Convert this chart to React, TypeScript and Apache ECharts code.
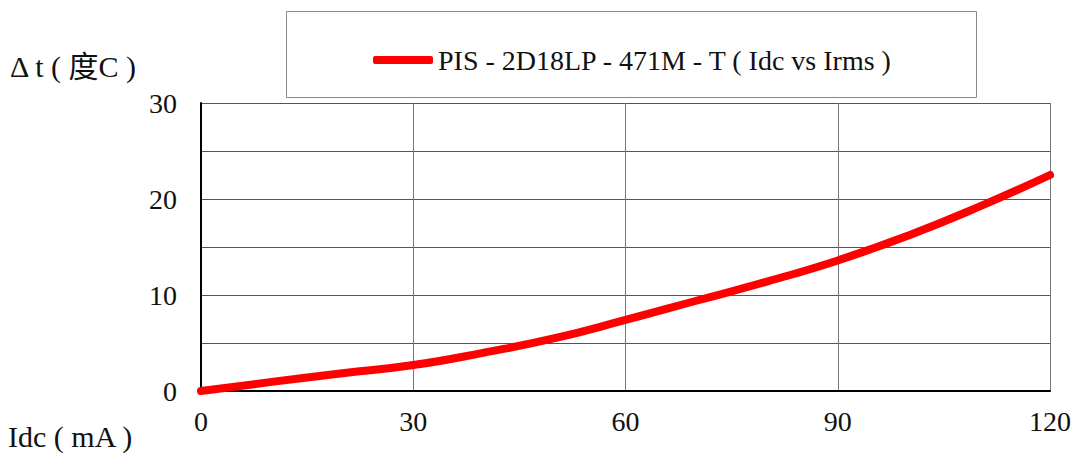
import React, { useEffect, useRef } from "react";
import * as echarts from "echarts";

const seriesName = "PIS - 2D18LP - 471M - T ( Idc vs Irms )";
const idc = [0, 10, 20, 30, 40, 50, 60, 70, 80, 90, 100, 110, 120];
const deltaT = [0, 0.95, 1.85, 2.7, 4.0, 5.5, 7.4, 9.4, 11.4, 13.6, 16.2, 19.2, 22.5];
const xTitle = "Idc ( mA )";
const yTitle = "Δ t ( 度C )";

const FONT = "Liberation Serif, Noto Sans CJK TC, serif";

export default function App() {
  const ref = useRef<HTMLDivElement>(null);
  useEffect(() => {
    if (!ref.current) return;
    const chart = echarts.init(ref.current, undefined, { renderer: "svg" });
    const data = idc.map((x, i) => [x, deltaT[i]]);
    chart.setOption({
      animation: false,
      backgroundColor: "#ffffff",
      grid: { left: 201, top: 103, right: 27, bottom: 62, containLabel: false },
      legend: {
        left: 368,
        top: 41,
        itemWidth: 60,
        itemHeight: 8,
        itemGap: 10,
        icon: "roundRect",
        textStyle: { fontFamily: FONT, fontSize: 28, color: "#111" },
        data: [{ name: seriesName, itemStyle: { color: "#ff0000" } }],
      },
      graphic: [
        {
          type: "rect",
          shape: { x: 286.5, y: 11.5, width: 690, height: 86 },
          style: { fill: "none", stroke: "#888", lineWidth: 1 },
          z: -1,
        },
        {
          type: "text",
          left: 10,
          top: 51,
          style: { text: yTitle, fontFamily: FONT, fontSize: 30, fill: "#111" },
        },
        {
          type: "text",
          left: 8,
          top: 421,
          style: { text: xTitle, fontFamily: FONT, fontSize: 30, fill: "#111" },
        },
      ],
      xAxis: {
        type: "value",
        min: 0,
        max: 120,
        interval: 30,
        axisLine: { show: true, lineStyle: { color: "#000", width: 2 } },
        axisTick: { show: false },
        axisLabel: { fontFamily: FONT, fontSize: 28, color: "#111", margin: 16 },
        splitLine: { show: true, lineStyle: { color: "#777", width: 1 } },
      },
      yAxis: {
        type: "value",
        min: 0,
        max: 30,
        interval: 5,
        axisLine: { show: true, lineStyle: { color: "#000", width: 2 } },
        axisTick: { show: false },
        axisLabel: {
          fontFamily: FONT,
          fontSize: 28,
          color: "#111",
          margin: 24,
          formatter: (v: number) => (v % 10 === 0 ? String(v) : ""),
        },
        splitLine: { show: true, lineStyle: { color: "#555", width: 1 } },
      },
      series: [
        {
          name: seriesName,
          type: "line",
          data,
          smooth: true,
          showSymbol: false,
          lineStyle: { color: "#ff0000", width: 8, cap: "round" },
          itemStyle: { color: "#ff0000" },
        },
      ],
    });
    return () => chart.dispose();
  }, []);
  return (
    <div
      ref={ref}
      style={{ position: "absolute", left: 0, top: 0, width: 1077, height: 453 }}
    />
  );
}
